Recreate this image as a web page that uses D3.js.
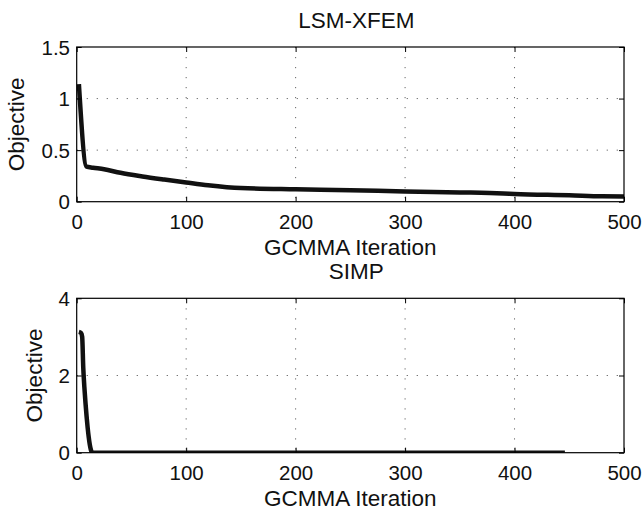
<!DOCTYPE html>
<html>
<head>
<meta charset="utf-8">
<script src="https://cdn.jsdelivr.net/npm/d3@7"></script>
<style>
  body { margin: 0; background: #fff; }
  svg { display: block; font-family: "Liberation Sans", Arial, Helvetica, sans-serif; }
</style>
</head>
<body>
<svg width="644" height="512"></svg>
<script>
// LSM-XFEM objective history (iteration, objective)
var lsmIter = [2, 9, 15, 25, 40, 60, 80, 100, 120, 150, 200, 250, 300, 350, 390, 400, 450, 480, 500];
var lsmObj  = [1.14, 0.34, 0.33, 0.315, 0.28, 0.245, 0.215, 0.187, 0.16, 0.132, 0.12, 0.112, 0.098, 0.09, 0.08, 0.075, 0.062, 0.052, 0.05];

// SIMP objective history
var simpIter = [2, 4, 5, 6, 7, 8, 9, 10, 11, 12, 13, 14, 15, 50, 100, 200, 300, 400, 446];
var simpObj  = [3.13, 3.1, 3.0, 2.2, 1.7, 1.3, 0.95, 0.65, 0.4, 0.2, 0.07, 0.01, 0, 0, 0, 0, 0, 0, 0];

var xTicks = [0, 100, 200, 300, 400, 500];
var lsmYTicks = [0, 0.5, 1, 1.5];
var simpYTicks = [0, 2, 4];

var svg = d3.select("svg");
var left = 76.7, right = 624;

function panel(cfg) {
    var x = d3.scaleLinear().domain([0, 500]).range([left, right]);
    var y = d3.scaleLinear().domain(cfg.yDomain).range([cfg.bottom, cfg.top]);
    var g = svg.append("g");

    // dotted grid
    g.selectAll("line.gx").data(xTicks.slice(1, -1)).enter().append("line")
        .attr("x1", function(d) { return x(d); }).attr("x2", function(d) { return x(d); })
        .attr("y1", cfg.top).attr("y2", cfg.bottom)
        .attr("stroke", "#666").attr("stroke-width", 1).attr("stroke-dasharray", "1.2,8.8");
    g.selectAll("line.gy").data(cfg.yTicks.slice(1, -1)).enter().append("line")
        .attr("y1", function(d) { return y(d); }).attr("y2", function(d) { return y(d); })
        .attr("x1", left).attr("x2", right)
        .attr("stroke", "#666").attr("stroke-width", 1).attr("stroke-dasharray", "1.2,8.8");

    // data line, clipped to the axes box
    var clipId = "clip" + cfg.name;
    svg.append("clipPath").attr("id", clipId).append("rect")
        .attr("x", left).attr("y", cfg.top).attr("width", right - left).attr("height", cfg.bottom - cfg.top);
    var pts = cfg.xs.map(function(d, i) { return [d, cfg.ys[i]]; });
    var line = d3.line().x(function(d) { return x(d[0]); }).y(function(d) { return y(d[1]); })
        .curve(d3.curveMonotoneX);
    g.append("path").datum(pts)
        .attr("clip-path", "url(#" + clipId + ")")
        .attr("d", line).attr("fill", "none")
        .attr("stroke", "#111").attr("stroke-width", 4.5).attr("stroke-linejoin", "round");

    // axes with inward ticks
    var fmt = function(d) { return String(d); };
    var ax = g.append("g").attr("transform", "translate(0," + cfg.bottom + ")")
        .call(d3.axisBottom(x).tickValues(xTicks).tickSize(-5).tickPadding(13).tickFormat(fmt));
    var at = g.append("g").attr("transform", "translate(0," + cfg.top + ")")
        .call(d3.axisTop(x).tickValues(xTicks).tickSize(-5).tickFormat(""));
    var ay = g.append("g").attr("transform", "translate(" + left + ",0)")
        .call(d3.axisLeft(y).tickValues(cfg.yTicks).tickSize(-5).tickPadding(6.7).tickFormat(fmt));
    var ar = g.append("g").attr("transform", "translate(" + right + ",0)")
        .call(d3.axisRight(y).tickValues(cfg.yTicks).tickSize(-5).tickFormat(""));
    [ax, at, ay, ar].forEach(function(a) {
        a.select(".domain").remove();
        a.selectAll(".tick line").attr("stroke", "#000").attr("stroke-width", 1);
        a.selectAll("text").attr("font-size", 20.5).attr("fill", "#111").style("font-family", null);
    });
    ay.selectAll("text").attr("dy", "0.35em");

    g.append("rect").attr("x", left).attr("y", cfg.top)
        .attr("width", right - left).attr("height", cfg.bottom - cfg.top)
        .attr("fill", "none").attr("stroke", "#000").attr("stroke-width", 1.2);

    // labels
    g.append("text").attr("x", (left + right) / 2 + 6).attr("y", cfg.top - 19)
        .attr("text-anchor", "middle").attr("font-size", 22.5).attr("fill", "#111").text(cfg.title);
    g.append("text").attr("x", (left + right) / 2).attr("y", cfg.bottom + 53)
        .attr("text-anchor", "middle").attr("font-size", 22.5).attr("fill", "#111").text("GCMMA Iteration");
    g.append("text").attr("transform", "translate(" + cfg.ylabX + "," + (cfg.top + cfg.bottom) / 2 + ") rotate(-90)")
        .attr("text-anchor", "middle").attr("font-size", 22.5).attr("fill", "#111").text("Objective");
}

panel({ name: "lsm", title: "LSM-XFEM", top: 47, bottom: 201.7, yDomain: [0, 1.5],
        yTicks: lsmYTicks, xs: lsmIter, ys: lsmObj, ylabX: 23.5 });
panel({ name: "simp", title: "SIMP", top: 298.3, bottom: 452.7, yDomain: [0, 4],
        yTicks: simpYTicks, xs: simpIter, ys: simpObj, ylabX: 41.5 });
</script>
</body>
</html>
